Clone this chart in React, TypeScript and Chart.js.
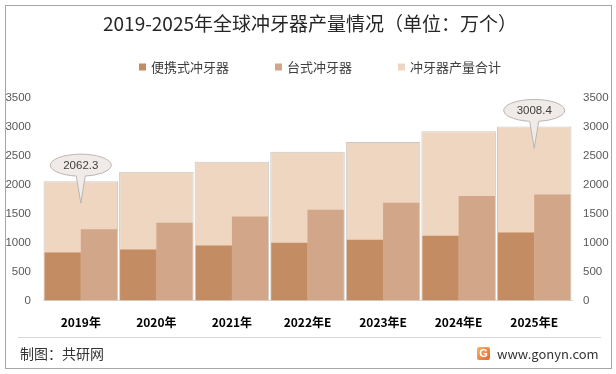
import React, { useEffect, useRef } from 'react';
import { Chart, registerables } from 'chart.js';

Chart.register(...registerables);

const categories = ['2019年', '2020年', '2021年', '2022年E', '2023年E', '2024年E', '2025年E'];
const portable = [830, 880, 950, 1000, 1050, 1120, 1175];
const desktop = [1232, 1345, 1450, 1570, 1690, 1805, 1833];
const totals = [2062.3, 2225, 2400, 2570, 2740, 2925, 3008.4];
const seriesNames = ['便携式冲牙器', '台式冲牙器', '冲牙器产量合计'];
const calloutIndices = [0, 6];
const yMax = 3500;
const yStep = 500;
const titleText = '2019-2025年全球冲牙器产量情况（单位：万个）';
const sourceText = '制图：共研网';
const siteText = 'www.gonyn.com';

const colors = ['#C48C62', '#D2A688', '#EFD6C0'];
const CJK = '"Noto Sans CJK SC", "Noto Sans", sans-serif';
const NUM = '"Liberation Sans", Arial, sans-serif';

const decor = {
  id: 'decor',
  beforeDraw(chart: any) {
    const ctx = chart.ctx;
    ctx.save();
    ctx.fillStyle = '#ffffff';
    ctx.fillRect(0, 0, chart.width, chart.height);
    ctx.strokeStyle = '#A6A6A6';
    ctx.lineWidth = 1;
    ctx.strokeRect(5.5, 5.5, 606, 363);
    ctx.restore();
  },
  afterDatasetsDraw(chart: any) {
    const ctx = chart.ctx;
    const meta = chart.getDatasetMeta(2);
    calloutIndices.forEach((i) => {
      const el = meta.data[i];
      if (!el) return;
      const cx = el.x;
      const top = el.y;
      const cy = top - 16;
      const rx = 30.5;
      const ry = 11;
      const tipY = top + 22;
      const dx = 4.5;
      const t1 = Math.acos(dx / rx);
      const t2 = Math.acos(-dx / rx);
      ctx.save();
      ctx.beginPath();
      ctx.moveTo(cx, tipY);
      ctx.lineTo(cx + rx * Math.cos(t2), cy + ry * Math.sin(t2));
      ctx.ellipse(cx, cy, rx, ry, 0, t2, t1 + Math.PI * 2, false);
      ctx.lineTo(cx, tipY);
      ctx.closePath();
      ctx.fillStyle = '#F0EBE8';
      ctx.fill();
      ctx.strokeStyle = '#BDB6B2';
      ctx.lineWidth = 1;
      ctx.stroke();
      ctx.fillStyle = '#404040';
      ctx.font = '11.5px ' + NUM;
      ctx.textAlign = 'center';
      ctx.textBaseline = 'middle';
      ctx.fillText(totals[i].toFixed(1), cx, cy + 0.5);
      ctx.restore();
    });
  },
  afterDraw(chart: any) {
    const ctx = chart.ctx;
    ctx.save();
    // title
    ctx.fillStyle = '#262626';
    ctx.font = '19px ' + CJK;
    ctx.textAlign = 'center';
    ctx.textBaseline = 'middle';
    ctx.fillText(titleText, 310, 24);

    // legend
    ctx.font = '13px ' + CJK;
    ctx.textAlign = 'left';
    const box = 7;
    const gap = 5;
    const spacing = 46;
    const widths = seriesNames.map((n) => box + gap + ctx.measureText(n).width);
    const total = widths.reduce((a, b) => a + b, 0) + spacing * (seriesNames.length - 1);
    let x = 320 - total / 2;
    const ly = 67;
    seriesNames.forEach((n, k) => {
      ctx.fillStyle = colors[k];
      ctx.fillRect(x, ly - box / 2, box, box);
      ctx.fillStyle = '#404040';
      ctx.fillText(n, x + box + gap, ly);
      x += widths[k] + spacing;
    });

    // footer
    ctx.strokeStyle = '#D9D9D9';
    ctx.lineWidth = 1;
    ctx.beginPath();
    ctx.moveTo(18, 337.5);
    ctx.lineTo(601, 337.5);
    ctx.stroke();
    ctx.fillStyle = '#333333';
    ctx.font = '14px ' + CJK;
    ctx.textAlign = 'left';
    ctx.fillText(sourceText, 20, 354);
    ctx.font = '13px ' + CJK;
    ctx.fillText(siteText, 497, 354);
    // logo
    const lx = 477;
    const ly2 = 347;
    const g = ctx.createLinearGradient(lx, ly2, lx + 13, ly2 + 13);
    g.addColorStop(0, '#F7B26A');
    g.addColorStop(1, '#E8652B');
    ctx.fillStyle = g;
    ctx.beginPath();
    if (ctx.roundRect) ctx.roundRect(lx, ly2, 13, 13, 2); else ctx.rect(lx, ly2, 13, 13);
    ctx.fill();
    ctx.fillStyle = '#ffffff';
    ctx.font = 'bold 11px ' + NUM;
    ctx.textAlign = 'center';
    ctx.fillText('G', lx + 6.5, ly2 + 7);
    ctx.restore();
  },
};

export default function App() {
  const ref = useRef<HTMLCanvasElement | null>(null);
  useEffect(() => {
    if (!ref.current) return;
    const fmt = (v: any) => String(v);
    const chart = new Chart(ref.current, {
      type: 'bar',
      data: {
        labels: categories,
        datasets: [
          {
            label: seriesNames[0],
            data: portable,
            backgroundColor: colors[0],
            borderWidth: 0,
            barPercentage: 1,
            categoryPercentage: 0.96,
            order: 1,
            yAxisID: 'y',
          },
          {
            label: seriesNames[1],
            data: desktop,
            backgroundColor: colors[1],
            borderWidth: 0,
            barPercentage: 1,
            categoryPercentage: 0.96,
            order: 1,
            yAxisID: 'y',
          },
          {
            label: seriesNames[2],
            data: totals,
            backgroundColor: colors[2],
            borderColor: '#C9C9C9',
            borderWidth: 1,
            barPercentage: 1,
            categoryPercentage: 0.986,
            grouped: false,
            order: 2,
            yAxisID: 'y',
          },
        ],
      } as any,
      options: {
        responsive: false,
        animation: false,
        events: [],
        layout: { autoPadding: false, padding: { top: 98, bottom: 33.5, left: 0, right: 0 } } as any,
        plugins: { legend: { display: false }, title: { display: false }, tooltip: { enabled: false } },
        scales: {
          x: {
            grid: { display: false, drawTicks: false },
            border: { display: true, color: '#D9D9D9', width: 1 },
            ticks: { color: '#000000', padding: 15, font: { family: CJK, size: 12, weight: 'bold' } },
            afterFit: (s: any) => { s.height = 40; },
          },
          y: {
            position: 'left',
            min: 0,
            max: yMax,
            grid: { display: false, drawTicks: false },
            border: { display: false },
            ticks: { stepSize: yStep, color: '#595959', padding: 12, font: { family: NUM, size: 11.5 }, callback: fmt },
            afterFit: (s: any) => { s.width = 43; },
          },
          y2: {
            position: 'right',
            min: 0,
            max: yMax,
            grid: { display: false, drawTicks: false },
            border: { display: false },
            ticks: { stepSize: yStep, color: '#595959', padding: 11, font: { family: NUM, size: 11.5 }, callback: fmt },
            afterFit: (s: any) => { s.width = 44; },
          },
        },
      } as any,
      plugins: [decor],
    });
    return () => chart.destroy();
  }, []);
  return (
    <div style={{ position: 'absolute', left: 0, top: 0, width: 616, height: 374 }}>
      <canvas ref={ref} width={616} height={374} style={{ display: 'block', width: 616, height: 374 }} />
    </div>
  );
}
